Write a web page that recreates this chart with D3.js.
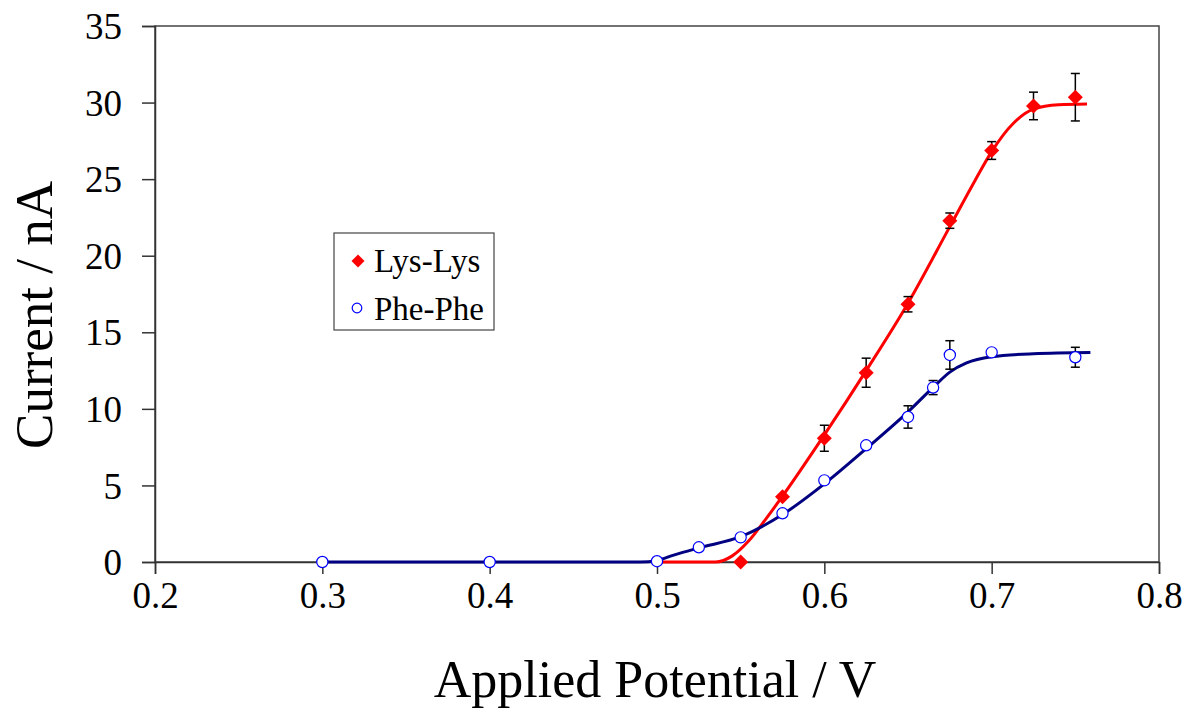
<!DOCTYPE html>
<html><head><meta charset="utf-8">
<script src="https://cdn.jsdelivr.net/npm/d3@7"></script>
<style>html,body{margin:0;padding:0;background:#fff;}svg{display:block;}</style>
</head><body>
<svg id="chart" width="1187" height="713"></svg>
<script>
// Measured data
const lysX   = [0.55, 0.575, 0.6, 0.625, 0.65, 0.675, 0.7, 0.725, 0.75];
const lysY   = [0, 4.26, 8.08, 12.36, 16.83, 22.29, 26.87, 29.78, 30.35];
const lysErr = [0, 0, 0.85, 0.95, 0.5, 0.5, 0.58, 0.9, 1.55];

const pheX   = [0.3, 0.4, 0.5, 0.525, 0.55, 0.575, 0.6, 0.625, 0.65, 0.665, 0.675, 0.7, 0.75];
const pheY   = [0, 0, 0.05, 0.96, 1.61, 3.18, 5.33, 7.62, 9.47, 11.39, 13.52, 13.69, 13.37];
const pheErr = [0, 0, 0, 0, 0, 0, 0, 0, 0.73, 0.46, 0.93, 0, 0.65];

// Fitted curves
const lysFitX = [0.5, 0.535, 0.545, 0.555, 0.565, 0.575, 0.6, 0.625, 0.65, 0.675, 0.69, 0.7, 0.713, 0.725, 0.74, 0.757];
const lysFitY = [0, 0, 0.4, 1.4, 2.8, 4.3, 8.3, 12.5, 16.9, 21.9, 24.9, 26.8, 28.65, 29.57, 29.85, 29.9];
const pheFitX = [0.3, 0.49, 0.5, 0.51, 0.525, 0.55, 0.575, 0.6, 0.625, 0.65, 0.665, 0.675, 0.685, 0.7, 0.725, 0.759];
const pheFitY = [0, 0, 0.1, 0.45, 0.92, 1.65, 3.1, 5.1, 7.4, 9.8, 11.4, 12.4, 13.0, 13.4, 13.6, 13.68];

const xTicks = [0.2, 0.3, 0.4, 0.5, 0.6, 0.7, 0.8];
const yTicks = [0, 5, 10, 15, 20, 25, 30, 35];
const seriesNames = ["Lys-Lys", "Phe-Phe"];
const xTitle = "Applied Potential / V";
const yTitle = "Current / nA";

const svg = d3.select("#chart");
const font = "'Liberation Serif','Times New Roman',serif";
const x = d3.scaleLinear().domain([0.2, 0.8]).range([155, 1159]);
const y = d3.scaleLinear().domain([0, 35]).range([562, 26]);

// Plot area border
svg.append("rect").attr("x", x(0.2)).attr("y", y(35))
  .attr("width", x(0.8) - x(0.2)).attr("height", y(0) - y(35))
  .attr("fill", "none").attr("stroke", "#444").attr("stroke-width", 1.5);

// Y axis
const yAxis = svg.append("g").attr("transform", `translate(${x(0.2)},0)`)
  .call(d3.axisLeft(y).tickValues(yTicks).tickSize(13).tickPadding(20).tickFormat(d3.format("d")));
// X axis at y=0
const xAxis = svg.append("g").attr("transform", `translate(0,${y(0)})`)
  .call(d3.axisBottom(x).tickValues(xTicks).tickSize(12).tickPadding(34).tickFormat(d3.format(".1f")));
[yAxis, xAxis].forEach(g => {
  g.attr("font-family", font);
  g.selectAll("path.domain").attr("stroke", "#333").attr("stroke-width", 1.5);
  g.selectAll(".tick line").attr("stroke", "#333").attr("stroke-width", 1.5);
  g.selectAll("text").attr("font-family", font).attr("font-size", 37).attr("fill", "#000");
});
yAxis.selectAll("text").attr("dy", "0.34em");
xAxis.selectAll("text").attr("dy", "0");

// Titles
svg.append("text").attr("x", (x(0.2) + x(0.8)) / 2 - 2).attr("y", 697)
  .attr("text-anchor", "middle").attr("font-family", font).attr("font-size", 52)
  .attr("fill", "#000").text(xTitle);
svg.append("text").attr("transform", "translate(52,315) rotate(-90)")
  .attr("text-anchor", "middle").attr("font-family", font).attr("font-size", 53)
  .attr("fill", "#000").text(yTitle);

// Fit lines
const line = d3.line().x(d => x(d[0])).y(d => y(d[1])).curve(d3.curveMonotoneX);
svg.append("path").datum(lysFitX.map((v, i) => [v, lysFitY[i]]))
  .attr("d", line).attr("fill", "none").attr("stroke", "#ff0000").attr("stroke-width", 3);
svg.append("path").datum(pheFitX.map((v, i) => [v, pheFitY[i]]))
  .attr("d", line).attr("fill", "none").attr("stroke", "#000080").attr("stroke-width", 3);

// Error bars
function errBars(xs, ys, es) {
  const g = svg.append("g").attr("stroke", "#000").attr("stroke-width", 1.5);
  xs.forEach((v, i) => {
    if (!es[i]) return;
    const cx = x(v), y1 = y(ys[i] + es[i]), y2 = y(ys[i] - es[i]);
    g.append("line").attr("x1", cx).attr("x2", cx).attr("y1", y1).attr("y2", y2);
    g.append("line").attr("x1", cx - 4.5).attr("x2", cx + 4.5).attr("y1", y1).attr("y2", y1);
    g.append("line").attr("x1", cx - 4.5).attr("x2", cx + 4.5).attr("y1", y2).attr("y2", y2);
  });
}
errBars(lysX, lysY, lysErr);
errBars(pheX, pheY, pheErr);

// Markers
const diamond = (cx, cy, r) => `M${cx},${cy - r}L${cx + r},${cy}L${cx},${cy + r}L${cx - r},${cy}Z`;
svg.append("g").selectAll("path").data(lysX).join("path")
  .attr("d", (d, i) => diamond(x(d), y(lysY[i]), 7.5)).attr("fill", "#ff0000");
svg.append("g").selectAll("circle").data(pheX).join("circle")
  .attr("cx", d => x(d)).attr("cy", (d, i) => y(pheY[i])).attr("r", 5.6)
  .attr("fill", "#fff").attr("stroke", "#0000ff").attr("stroke-width", 1.2);

// Legend
const lg = svg.append("g");
lg.append("rect").attr("x", 334).attr("y", 233).attr("width", 160).attr("height", 97)
  .attr("fill", "#fff").attr("stroke", "#444").attr("stroke-width", 1.2);
lg.append("path").attr("d", diamond(358, 261, 6.5)).attr("fill", "#ff0000");
lg.append("circle").attr("cx", 357).attr("cy", 308).attr("r", 4.8)
  .attr("fill", "#fff").attr("stroke", "#0000ff").attr("stroke-width", 1.2);
lg.selectAll("text").data(seriesNames).join("text")
  .attr("x", 374).attr("y", (d, i) => [272, 320][i])
  .attr("font-family", font).attr("font-size", 33).attr("fill", "#000").text(d => d);
</script>
</body></html>
